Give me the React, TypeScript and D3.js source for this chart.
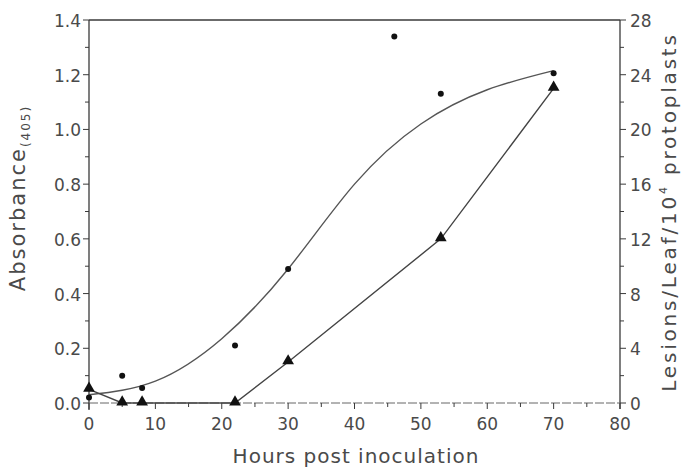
import React from "react";
import * as d3 from "d3";

const hoursAbs = [0, 5, 8, 22, 30, 46, 53, 70];
const absorbance = [0.02, 0.1, 0.055, 0.21, 0.49, 1.34, 1.13, 1.205];

const hoursLes = [0, 5, 8, 22, 30, 53, 70];
const lesions = [1, 0, 0, 0, 3, 12, 23];

const fitHours = [0, 10, 20, 30, 40, 50, 60, 70];
const fitAbs = [0.03, 0.08, 0.235, 0.49, 0.8, 1.02, 1.145, 1.215];

const xTicks = [0, 10, 20, 30, 40, 50, 60, 70, 80];
const leftTicks = [0, 0.2, 0.4, 0.6, 0.8, 1.0, 1.2, 1.4];
const rightTicks = [0, 4, 8, 12, 16, 20, 24, 28];

export default function App() {
  const W = 685, H = 467;
  const x = d3.scaleLinear().domain([0, 80]).range([89, 620]);
  const yL = d3.scaleLinear().domain([0, 1.4]).range([403, 20]);
  const yR = d3.scaleLinear().domain([0, 28]).range([403, 20]);
  const ink = "#3a3a3a";
  const txt = "#4a4a4a";
  const font = "'DejaVu Sans', Verdana, sans-serif";

  const fitLine = d3
    .line<number>()
    .x((_, i) => x(fitHours[i]))
    .y((d) => yL(d))
    .curve(d3.curveNatural)(fitAbs) as string;

  const lesLine = d3
    .line<number>()
    .x((_, i) => x(hoursLes[i]))
    .y((d) => yR(d))(lesions) as string;

  const minorX = d3.range(5, 80, 10);
  const minorL = d3.range(0.1, 1.4, 0.2);
  const minorR = d3.range(2, 28, 4);
  const tri = d3.symbol().type(d3.symbolTriangle).size(60)() as string;

  return (
    <svg width={W} height={H} style={{ position: "absolute", left: 0, top: 0, background: "#fff" }} fontFamily={font}>
      {/* frame */}
      <line x1={x(0)} x2={x(80)} y1={yL(1.4)} y2={yL(1.4)} stroke={ink} strokeWidth={1.3} />
      <line x1={x(0)} x2={x(0)} y1={yL(1.4)} y2={yL(0) + 7} stroke={ink} strokeWidth={1.3} />
      <line x1={x(80)} x2={x(80)} y1={yR(28)} y2={yR(0) + 6} stroke={ink} strokeWidth={1.3} />
      <line x1={x(0)} x2={x(80)} y1={yL(0)} y2={yL(0)} stroke="#666" strokeWidth={1} strokeDasharray="9 2" />

      {/* x ticks */}
      {xTicks.map((t) => (
        <g key={"x" + t}>
          <line x1={x(t)} x2={x(t)} y1={yL(0)} y2={yL(0) + 6} stroke={ink} strokeWidth={1} />
          <text x={x(t)} y={yL(0) + 27} textAnchor="middle" fontSize={17} fill={txt}>
            {t}
          </text>
        </g>
      ))}
      {minorX.map((t) => (
        <line key={"mx" + t} x1={x(t)} x2={x(t)} y1={yL(0)} y2={yL(0) + 4} stroke={ink} strokeWidth={1} />
      ))}

      {/* left ticks */}
      {leftTicks.map((t) => (
        <g key={"l" + t}>
          <line x1={x(0) - 6} x2={x(0)} y1={yL(t)} y2={yL(t)} stroke={ink} strokeWidth={1} />
          <text x={x(0) - 8} y={yL(t) + 7} textAnchor="end" fontSize={17} fill={txt}>
            {t.toFixed(1)}
          </text>
        </g>
      ))}
      {minorL.map((t) => (
        <line key={"ml" + t} x1={x(0) - 4} x2={x(0)} y1={yL(t)} y2={yL(t)} stroke={ink} strokeWidth={1} />
      ))}

      {/* right ticks */}
      {rightTicks.map((t) => (
        <g key={"r" + t}>
          <line x1={x(80)} x2={x(80) + 6} y1={yR(t)} y2={yR(t)} stroke={ink} strokeWidth={1} />
          <text x={x(80) + 10} y={yR(t) + 7} textAnchor="start" fontSize={17} fill={txt}>
            {t}
          </text>
        </g>
      ))}
      {minorR.map((t) => (
        <line key={"mr" + t} x1={x(80)} x2={x(80) + 4} y1={yR(t)} y2={yR(t)} stroke={ink} strokeWidth={1} />
      ))}

      {/* series */}
      <path d={fitLine} fill="none" stroke="#555" strokeWidth={1.4} />
      <path d={lesLine} fill="none" stroke="#444" strokeWidth={1.4} />
      {hoursAbs.map((h, i) => (
        <circle key={"c" + i} cx={x(h)} cy={yL(absorbance[i])} r={3} fill="#111" />
      ))}
      {hoursLes.map((h, i) => (
        <path key={"t" + i} d={tri} transform={`translate(${x(h)},${yR(lesions[i]) - 1})`} fill="#111" />
      ))}

      {/* axis titles */}
      <text x={356} y={463} textAnchor="middle" fontSize={20} letterSpacing={1} fill={txt}>
        Hours post inoculation
      </text>
      <text transform={`translate(25,198) rotate(-90)`} textAnchor="middle" fontSize={21} letterSpacing={2} fill={txt}>
        Absorbance
        <tspan fontSize={12} dy={5}>(405)</tspan>
      </text>
      <text transform={`translate(676,212) rotate(-90)`} textAnchor="middle" fontSize={20} letterSpacing={2.8} fill={txt}>
        Lesions/Leaf/10
        <tspan fontSize={11} dy={-9}>4</tspan>
        <tspan dy={9}> protoplasts</tspan>
      </text>
    </svg>
  );
}
